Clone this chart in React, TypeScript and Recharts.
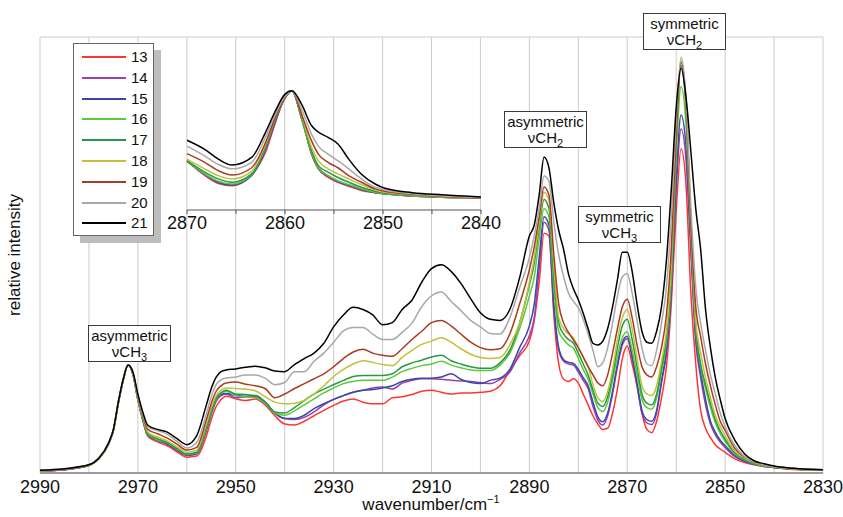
import { LineChart, Line, XAxis, YAxis, CartesianGrid } from "recharts";

// wavenumbers (cm-1) shared by all main-chart series
const WAVENUMBERS = [
  2990, 2985, 2980, 2978, 2976, 2975, 2974, 2973, 2972, 2971, 2970, 2969, 2968, 2966, 2964, 2962, 2960, 2958, 2956, 2955, 2954, 2953, 2952,
  2950, 2948, 2946, 2944, 2942, 2940, 2938, 2936, 2934, 2932, 2930, 2928, 2926, 2924, 2922, 2920, 2918, 2916, 2914, 2912, 2910, 2908, 2906, 2904, 2902, 2900, 2898, 2896, 2894, 2892,
  2890, 2889, 2888, 2887, 2886, 2885, 2884, 2883, 2882, 2881, 2880, 2879, 2878, 2877, 2876, 2875, 2874, 2873, 2872, 2871, 2870, 2869, 2868, 2867, 2866, 2865, 2864, 2863, 2862, 2861, 2860, 2859, 2858, 2857, 2856, 2855, 2854, 2853, 2852, 2851, 2850,
  2848, 2846, 2844, 2842, 2840, 2835, 2830,
];

const S13 = [
  0.04, 0.06, 0.14, 0.26, 0.53, 0.78, 1.28, 1.7, 1.98, 1.8, 1.34, 0.97, 0.68, 0.57, 0.5, 0.39, 0.29, 0.31, 0.68, 0.98, 1.22, 1.35, 1.41,
  1.36, 1.33, 1.36, 1.25, 1.05, 0.9, 0.88, 0.95, 1.05, 1.15, 1.24, 1.32, 1.36, 1.3, 1.27, 1.27, 1.38, 1.4, 1.44, 1.5, 1.52, 1.48, 1.45, 1.47, 1.47, 1.48, 1.5, 1.6, 1.88, 2.15,
  2.42, 2.8, 3.5, 4.4, 4.35, 2.9, 2.0, 1.72, 1.68, 1.73, 1.65, 1.45, 1.25, 1.05, 0.9, 0.8, 0.82, 1.1, 1.55, 2.1, 2.33, 2.0, 1.6, 1.1, 0.8, 0.74, 0.95, 1.38, 1.95, 3.1, 4.8, 5.95, 5.3, 3.3, 2.0, 1.15, 0.82, 0.65, 0.52, 0.44, 0.38,
  0.26, 0.19, 0.15, 0.12, 0.1, 0.06, 0.05,
];
const S14 = [
  0.04, 0.06, 0.14, 0.26, 0.53, 0.78, 1.28, 1.7, 1.98, 1.81, 1.35, 0.98, 0.7, 0.6, 0.53, 0.42, 0.32, 0.35, 0.78, 1.08, 1.32, 1.42, 1.45,
  1.38, 1.4, 1.4, 1.3, 1.1, 1.0, 0.98, 1.02, 1.12, 1.25, 1.35, 1.42, 1.48, 1.52, 1.56, 1.58, 1.54, 1.65, 1.7, 1.73, 1.73, 1.72, 1.7, 1.69, 1.68, 1.66, 1.64, 1.72, 1.85, 2.2,
  2.52, 2.85, 3.75, 4.6, 4.45, 3.0, 2.25, 2.05, 2.0, 1.98, 1.85, 1.7, 1.55, 1.22, 0.97, 0.88, 1.05, 1.45, 1.95, 2.35, 2.47, 2.1, 1.6, 1.1, 0.92, 0.89, 1.1, 1.65, 2.2, 3.3, 5.2, 6.31, 5.75, 4.05, 2.4, 1.75, 1.25, 0.9, 0.7, 0.57, 0.47,
  0.3, 0.21, 0.16, 0.12, 0.1, 0.07, 0.05,
];
const S15 = [
  0.04, 0.06, 0.14, 0.26, 0.53, 0.78, 1.28, 1.7, 1.98, 1.81, 1.35, 0.98, 0.7, 0.6, 0.53, 0.42, 0.33, 0.36, 0.8, 1.1, 1.34, 1.44, 1.46,
  1.42, 1.41, 1.42, 1.3, 1.1, 1.0, 1.0, 1.06, 1.18, 1.27, 1.35, 1.42, 1.48, 1.52, 1.53, 1.56, 1.6, 1.68, 1.72, 1.74, 1.74, 1.76, 1.82, 1.72, 1.66, 1.64, 1.7, 1.74, 1.9, 2.3,
  2.7, 3.1, 3.95, 4.7, 4.55, 3.1, 2.3, 2.08, 2.03, 2.01, 1.9, 1.75, 1.6, 1.3, 1.03, 0.94, 1.1, 1.5, 2.0, 2.4, 2.51, 2.15, 1.65, 1.15, 0.98, 0.95, 1.15, 1.7, 2.25, 3.4, 5.4, 6.57, 6.0, 4.2, 2.5, 1.85, 1.35, 0.95, 0.75, 0.6, 0.5,
  0.32, 0.22, 0.16, 0.13, 0.1, 0.07, 0.05,
];
const S16 = [
  0.04, 0.07, 0.14, 0.26, 0.54, 0.78, 1.28, 1.7, 1.98, 1.82, 1.36, 1.0, 0.71, 0.61, 0.55, 0.44, 0.34, 0.37, 0.82, 1.12, 1.36, 1.46, 1.5,
  1.42, 1.4, 1.38, 1.28, 1.1, 1.06, 1.14, 1.25, 1.36, 1.47, 1.56, 1.64, 1.68, 1.7, 1.7, 1.7, 1.76, 1.86, 1.92, 1.97, 2.0, 2.05, 1.98, 1.93, 1.89, 1.88, 1.88, 1.98, 2.2, 2.65,
  3.25, 3.6, 4.3, 4.85, 4.7, 3.4, 2.6, 2.45, 2.35, 2.29, 2.1, 1.9, 1.72, 1.45, 1.2, 1.13, 1.3, 1.7, 2.15, 2.48, 2.59, 2.25, 1.8, 1.35, 1.2, 1.17, 1.38, 1.85, 2.4, 3.55, 5.8, 7.09, 6.4, 4.4, 2.65, 1.95, 1.55, 1.2, 0.92, 0.72, 0.58,
  0.35, 0.24, 0.17, 0.13, 0.11, 0.07, 0.05,
];
const S17 = [
  0.04, 0.07, 0.14, 0.26, 0.54, 0.79, 1.29, 1.71, 1.98, 1.82, 1.36, 1.0, 0.72, 0.63, 0.56, 0.45, 0.35, 0.38, 0.84, 1.14, 1.38, 1.47, 1.52,
  1.45, 1.44, 1.42, 1.3, 1.12, 1.1, 1.2, 1.33, 1.45, 1.54, 1.62, 1.7, 1.77, 1.79, 1.79, 1.79, 1.82, 1.95, 2.02, 2.07, 2.13, 2.16, 2.06, 2.0, 1.95, 1.92, 1.92, 2.02, 2.25, 2.75,
  3.45, 3.85, 4.5, 5.02, 4.85, 3.6, 2.75, 2.55, 2.45, 2.38, 2.2, 2.0, 1.8, 1.52, 1.28, 1.22, 1.4, 1.8, 2.3, 2.7, 2.82, 2.45, 1.95, 1.45, 1.28, 1.25, 1.45, 1.93, 2.5, 3.7, 6.1, 7.48, 6.7, 4.5, 2.7, 2.0, 1.62, 1.28, 0.98, 0.77, 0.62,
  0.37, 0.25, 0.18, 0.14, 0.11, 0.07, 0.05,
];
const S18 = [
  0.04, 0.07, 0.14, 0.26, 0.54, 0.79, 1.29, 1.71, 1.98, 1.83, 1.38, 1.02, 0.75, 0.66, 0.59, 0.48, 0.38, 0.42, 0.9, 1.2, 1.42, 1.52, 1.56,
  1.55, 1.54, 1.51, 1.4, 1.3, 1.27, 1.28, 1.33, 1.45, 1.6, 1.77, 1.9, 2.0, 2.06, 2.03, 1.99, 1.97, 2.12, 2.25, 2.36, 2.42, 2.48, 2.4, 2.28, 2.18, 2.12, 2.1, 2.12, 2.35, 2.75,
  3.5, 3.95, 4.6, 5.15, 5.0, 3.8, 2.85, 2.65, 2.55, 2.48, 2.3, 2.12, 1.95, 1.62, 1.38, 1.31, 1.5, 1.9, 2.45, 2.85, 3.0, 2.65, 2.1, 1.6, 1.45, 1.42, 1.6, 2.05, 2.6, 3.8, 6.2, 7.57, 6.8, 4.6, 2.8, 2.2, 1.75, 1.38, 1.05, 0.85, 0.68,
  0.4, 0.27, 0.19, 0.14, 0.11, 0.07, 0.05,
];
const S19 = [
  0.05, 0.07, 0.15, 0.27, 0.54, 0.79, 1.29, 1.71, 1.98, 1.83, 1.4, 1.05, 0.8, 0.72, 0.64, 0.53, 0.42, 0.47, 0.98, 1.28, 1.5, 1.6, 1.65,
  1.67, 1.63, 1.6, 1.55, 1.38, 1.45, 1.55, 1.64, 1.73, 1.82, 1.95, 2.1, 2.22, 2.27, 2.2, 2.16, 2.14, 2.28, 2.45, 2.6, 2.76, 2.8, 2.7, 2.55, 2.4, 2.3, 2.26, 2.28, 2.55, 3.1,
  3.73, 4.15, 4.7, 5.25, 5.1, 4.0, 3.1, 2.75, 2.58, 2.44, 2.3, 2.13, 1.95, 1.8, 1.65, 1.6, 1.8, 2.2, 2.65, 3.05, 3.19, 2.85, 2.35, 1.95, 1.8, 1.76, 1.95, 2.3, 2.9, 4.1, 6.2, 7.53, 6.8, 4.6, 3.05, 2.5, 2.0, 1.6, 1.25, 0.95, 0.78,
  0.45, 0.29, 0.2, 0.15, 0.12, 0.08, 0.06,
];
const S20 = [
  0.05, 0.08, 0.15, 0.27, 0.55, 0.8, 1.3, 1.72, 1.98, 1.84, 1.42, 1.08, 0.85, 0.78, 0.71, 0.58, 0.46, 0.56, 1.08, 1.4, 1.62, 1.71, 1.74,
  1.76, 1.8, 1.8, 1.74, 1.62, 1.66, 1.86, 1.86, 2.05, 2.2, 2.4, 2.61, 2.67, 2.67, 2.55, 2.45, 2.45, 2.58, 2.75, 3.05, 3.25, 3.32, 3.15, 2.98, 2.8, 2.68, 2.56, 2.55, 2.85, 3.4,
  3.95, 4.35, 4.85, 5.45, 5.35, 4.6, 4.0, 3.6, 3.3, 3.15, 3.03, 2.82, 2.55, 2.25, 1.95, 2.02, 2.3, 2.75, 3.25, 3.6, 3.66, 3.3, 2.8, 2.3, 2.0, 1.97, 2.25, 2.75, 3.4, 4.7, 6.5, 7.63, 6.9, 4.9, 3.4, 2.75, 2.25, 1.8, 1.45, 1.1, 0.85,
  0.5, 0.3, 0.2, 0.15, 0.12, 0.08, 0.06,
];
const S21 = [
  0.05, 0.08, 0.15, 0.27, 0.55, 0.8, 1.3, 1.72, 1.98, 1.85, 1.45, 1.12, 0.88, 0.8, 0.75, 0.63, 0.52, 0.68, 1.25, 1.55, 1.76, 1.86, 1.89,
  1.91, 1.94, 1.96, 1.93, 1.87, 1.86, 1.99, 2.1, 2.2, 2.38, 2.68, 2.9, 3.04, 3.0, 2.9, 2.72, 2.76, 3.0, 3.17, 3.5, 3.75, 3.82, 3.7, 3.48, 3.2, 2.94, 2.82, 2.8, 3.0, 3.58,
  4.35, 4.55, 5.1, 5.8, 5.6, 4.95, 4.45, 4.1, 3.65, 3.38, 3.18, 2.93, 2.65, 2.38, 2.35, 2.42, 2.65, 3.05, 3.55, 4.05, 4.05, 3.7, 3.1, 2.6, 2.4, 2.38, 2.6, 3.05, 3.9, 5.2, 6.7, 7.43, 6.9, 5.9, 4.85, 4.1, 3.0, 2.3, 1.75, 1.35, 1.0,
  0.6, 0.35, 0.22, 0.17, 0.13, 0.08, 0.06,
];

// inset: normalised to the 2859 peak
const INSET_WAVENUMBERS = [2870, 2868.2, 2866.8, 2865.4, 2863.4, 2862, 2861, 2860, 2859.3, 2858.3, 2857.3, 2856.6, 2855.6, 2854.6, 2853.5, 2852.2, 2850.8, 2849.8, 2847, 2844, 2840];
const I13 = [0.355, 0.22, 0.145, 0.125, 0.225, 0.43, 0.7, 0.95, 1.0, 0.78, 0.415, 0.28, 0.2, 0.155, 0.12, 0.08, 0.06, 0.05, 0.03, 0.018, 0.008];
const I14 = [0.35, 0.226, 0.152, 0.128, 0.218, 0.455, 0.715, 0.935, 1.0, 0.75, 0.425, 0.285, 0.21, 0.16, 0.125, 0.088, 0.06, 0.05, 0.03, 0.018, 0.008];
const I15 = [0.35, 0.228, 0.155, 0.13, 0.22, 0.46, 0.72, 0.935, 1.0, 0.745, 0.43, 0.29, 0.215, 0.165, 0.13, 0.09, 0.062, 0.05, 0.03, 0.018, 0.008];
const I16 = [0.35, 0.233, 0.165, 0.14, 0.226, 0.477, 0.737, 0.935, 1.0, 0.737, 0.43, 0.29, 0.217, 0.17, 0.135, 0.095, 0.064, 0.05, 0.03, 0.018, 0.008];
const I17 = [0.355, 0.25, 0.187, 0.156, 0.233, 0.49, 0.745, 0.94, 1.0, 0.75, 0.45, 0.31, 0.25, 0.2, 0.156, 0.11, 0.073, 0.055, 0.035, 0.02, 0.01];
const I18 = [0.37, 0.28, 0.217, 0.187, 0.257, 0.505, 0.75, 0.94, 1.0, 0.77, 0.48, 0.355, 0.28, 0.233, 0.187, 0.135, 0.085, 0.064, 0.04, 0.02, 0.01];
const I19 = [0.42, 0.34, 0.263, 0.223, 0.29, 0.52, 0.75, 0.935, 1.0, 0.78, 0.54, 0.415, 0.34, 0.29, 0.217, 0.156, 0.095, 0.073, 0.045, 0.025, 0.01];
const I20 = [0.49, 0.4, 0.32, 0.28, 0.34, 0.57, 0.78, 0.95, 1.0, 0.83, 0.6, 0.49, 0.415, 0.355, 0.28, 0.187, 0.11, 0.085, 0.05, 0.03, 0.015];
const I21 = [0.544, 0.46, 0.37, 0.315, 0.385, 0.615, 0.81, 0.97, 1.0, 0.875, 0.68, 0.62, 0.57, 0.51, 0.37, 0.23, 0.14, 0.1, 0.06, 0.04, 0.02];

const X_TICKS = [2990, 2980, 2970, 2960, 2950, 2940, 2930, 2920, 2910, 2900, 2890, 2880, 2870, 2860, 2850, 2840, 2830];
const X_LABELS = [2990, 2970, 2950, 2930, 2910, 2890, 2870, 2850, 2830];
const Y_TICKS = [0, 1, 2, 3, 4, 5, 6, 7, 8];
const INSET_TICKS = [2870, 2865, 2860, 2855, 2850, 2845, 2840];
const INSET_LABELS = [2870, 2860, 2850, 2840];

const SERIES = [
  { key: "13", color: "#ff3434", main: S13, inset: I13 },
  { key: "14", color: "#9b3fae", main: S14, inset: I14 },
  { key: "15", color: "#3a48a8", main: S15, inset: I15 },
  { key: "16", color: "#5cc83a", main: S16, inset: I16 },
  { key: "17", color: "#249a46", main: S17, inset: I17 },
  { key: "18", color: "#bfc23a", main: S18, inset: I18 },
  { key: "19", color: "#ac3a22", main: S19, inset: I19 },
  { key: "20", color: "#a8a8a8", main: S20, inset: I20 },
  { key: "21", color: "#000000", main: S21, inset: I21 },
];

const FONT = "'Liberation Sans', Arial, Helvetica, sans-serif";

const mainData = WAVENUMBERS.map((w, i) => {
  const row: Record<string, number> = { w };
  SERIES.forEach((s) => (row[s.key] = s.main[i]));
  return row;
});

const insetData = INSET_WAVENUMBERS.map((w, i) => {
  const row: Record<string, number> = { w };
  SERIES.forEach((s) => (row[s.key] = s.inset[i]));
  return row;
});

function Note({ left, top, first, sub }: { left: number; top: number; first: string; sub: string }) {
  return (
    <div
      style={{
        position: "absolute",
        left,
        top,
        width: 83,
        height: 37,
        boxSizing: "border-box",
        border: "1.5px solid #3a3a3a",
        background: "#fff",
        fontFamily: FONT,
        fontSize: 15,
        lineHeight: "16px",
        textAlign: "center",
        paddingTop: 2,
        color: "#111",
      }}
    >
      <div>{first}</div>
      <div>
        νCH<sub style={{ fontSize: 11, lineHeight: 0, verticalAlign: "-4px" }}>{sub}</sub>
      </div>
    </div>
  );
}

export default function App() {
  return (
    <div style={{ position: "absolute", left: 0, top: 0, width: 843, height: 517, background: "#fff" }}>
      <LineChart width={843} height={517} data={mainData} margin={{ top: 37, right: 20, bottom: 14, left: 40 }}>
        <CartesianGrid stroke="#cccccc" strokeWidth={1} />
        <XAxis
          dataKey="w"
          type="number"
          domain={[2830, 2990]}
          reversed
          ticks={X_TICKS}
          interval={0}
          height={30}
          tickSize={5}
          tickLine={false}
          axisLine={{ stroke: "#555", strokeWidth: 1.2 }}
          tickFormatter={(v: number) => (X_LABELS.includes(v) ? String(v) : "")}
          tick={{ fontSize: 18, fill: "#111", fontFamily: FONT }}
        />
        <YAxis
          type="number"
          domain={[0, 8]}
          ticks={Y_TICKS}
          width={0}
          tick={false}
          tickLine={false}
          axisLine={{ stroke: "#555", strokeWidth: 1.2 }}
        />
        {SERIES.map((s) => (
          <Line
            key={s.key}
            type="monotone"
            dataKey={s.key}
            stroke={s.color}
            strokeWidth={1.5}
            dot={false}
            isAnimationActive={false}
          />
        ))}
      </LineChart>

      <div style={{ position: "absolute", left: 157, top: 70 }}>
        <LineChart width={350} height={165} data={insetData} margin={{ top: 10, right: 26, bottom: 0, left: 30 }}>
          <XAxis
            dataKey="w"
            type="number"
            domain={[2840, 2870]}
            reversed
            ticks={INSET_TICKS}
            interval={0}
            height={25}
            tickSize={4}
            tickLine={{ stroke: "#555" }}
            axisLine={{ stroke: "#555", strokeWidth: 1.2 }}
            tickFormatter={(v: number) => (INSET_LABELS.includes(v) ? String(v) : "")}
            tick={{ fontSize: 18, fill: "#111", fontFamily: FONT }}
          />
          <YAxis
            type="number"
            domain={[-0.1, 1.1]}
            width={0}
            tick={false}
            tickLine={false}
            axisLine={{ stroke: "#555", strokeWidth: 1.2 }}
          />
          {SERIES.map((s) => (
            <Line
              key={s.key}
              type="monotone"
              dataKey={s.key}
              stroke={s.color}
              strokeWidth={1.5}
              dot={false}
              isAnimationActive={false}
            />
          ))}
        </LineChart>
      </div>

      <div
        style={{
          position: "absolute",
          left: 73,
          top: 43,
          width: 81,
          height: 193,
          boxSizing: "border-box",
          border: "1.5px solid #666",
          background: "#fff",
          boxShadow: "7px 7px 0 #bdbdbd",
        }}
      >
        {SERIES.map((s, i) => (
          <div key={s.key} style={{ position: "absolute", left: 0, top: 3 + i * 20.8, height: 20, width: 78 }}>
            <div style={{ position: "absolute", left: 8, top: 9, width: 44, height: 2, background: s.color }} />
            <div style={{ position: "absolute", left: 57, top: 1, fontFamily: FONT, fontSize: 15, lineHeight: "18px", color: "#111" }}>
              {s.key}
            </div>
          </div>
        ))}
      </div>

      <Note left={88} top={325} first="asymmetric" sub="3" />
      <Note left={504} top={111} first="asymmetric" sub="2" />
      <Note left={578} top={206} first="symmetric" sub="3" />
      <Note left={643} top={13} first="symmetric" sub="2" />

      <div
        style={{
          position: "absolute",
          left: 331,
          top: 495,
          width: 200,
          textAlign: "center",
          fontFamily: FONT,
          fontSize: 17,
          lineHeight: "20px",
          color: "#111",
        }}
      >
        wavenumber/cm<sup style={{ fontSize: 11, lineHeight: 0, verticalAlign: "7px" }}>−1</sup>
      </div>
      <div
        style={{
          position: "absolute",
          left: 15 - 90,
          top: 255 - 10,
          width: 180,
          height: 20,
          textAlign: "center",
          transform: "rotate(-90deg)",
          fontFamily: FONT,
          fontSize: 17,
          lineHeight: "20px",
          color: "#111",
        }}
      >
        relative intensity
      </div>
    </div>
  );
}
